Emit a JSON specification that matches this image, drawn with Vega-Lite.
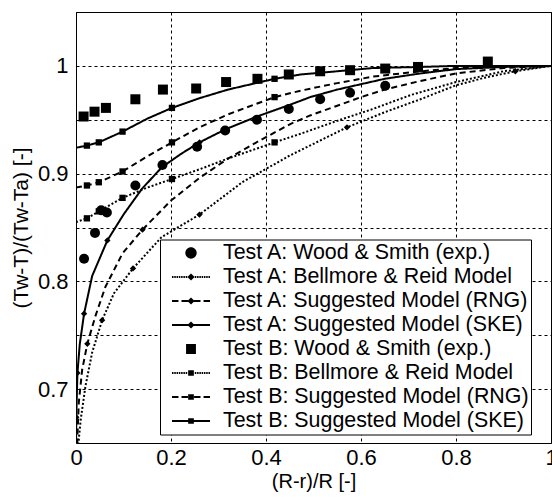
{
  "$schema": "https://vega.github.io/schema/vega-lite/v6.json",
  "width": 475,
  "height": 431,
  "autosize": "none",
  "padding": {"left": 76, "top": 12, "right": 1, "bottom": 54},
  "background": "white",
  "config": {
    "view": {"stroke": "black", "strokeWidth": 1},
    "axis": {
      "labelFont": "Liberation Sans", "labelFontSize": 22, "labelColor": "black",
      "titleFont": "Liberation Sans", "titleFontSize": 20, "titleFontWeight": "normal", "titleColor": "black",
      "grid": true, "gridColor": "black", "gridDash": [3, 3], "gridOpacity": 1, "gridWidth": 1,
      "domain": false, "ticks": false, "labelOverlap": false, "labelFlush": false
    }
  },
  "data": {"values": [
    {"s": "Test A: Bellmore & Reid Model", "k": "l", "x": 0.003, "y": 0.63},
    {"s": "Test A: Bellmore & Reid Model", "k": "l", "x": 0.006, "y": 0.654},
    {"s": "Test A: Bellmore & Reid Model", "k": "l", "x": 0.01, "y": 0.672},
    {"s": "Test A: Bellmore & Reid Model", "k": "l", "x": 0.02, "y": 0.703},
    {"s": "Test A: Bellmore & Reid Model", "k": "l", "x": 0.034, "y": 0.734},
    {"s": "Test A: Bellmore & Reid Model", "k": "m", "x": 0.055, "y": 0.764},
    {"s": "Test A: Bellmore & Reid Model", "k": "l", "x": 0.08, "y": 0.789},
    {"s": "Test A: Bellmore & Reid Model", "k": "m", "x": 0.12, "y": 0.812},
    {"s": "Test A: Bellmore & Reid Model", "k": "l", "x": 0.18, "y": 0.841},
    {"s": "Test A: Bellmore & Reid Model", "k": "m", "x": 0.26, "y": 0.862},
    {"s": "Test A: Bellmore & Reid Model", "k": "l", "x": 0.35, "y": 0.892},
    {"s": "Test A: Bellmore & Reid Model", "k": "l", "x": 0.451, "y": 0.917},
    {"s": "Test A: Bellmore & Reid Model", "k": "m", "x": 0.5705, "y": 0.943},
    {"s": "Test A: Bellmore & Reid Model", "k": "l", "x": 0.65, "y": 0.957},
    {"s": "Test A: Bellmore & Reid Model", "k": "l", "x": 0.725, "y": 0.969},
    {"s": "Test A: Bellmore & Reid Model", "k": "l", "x": 0.8, "y": 0.982},
    {"s": "Test A: Bellmore & Reid Model", "k": "l", "x": 0.86, "y": 0.989},
    {"s": "Test A: Bellmore & Reid Model", "k": "m", "x": 0.925, "y": 0.995},
    {"s": "Test A: Bellmore & Reid Model", "k": "l", "x": 1.0, "y": 1.0},

    {"s": "Test A: Suggested Model (RNG)", "k": "l", "x": 0.002, "y": 0.63},
    {"s": "Test A: Suggested Model (RNG)", "k": "l", "x": 0.003, "y": 0.657},
    {"s": "Test A: Suggested Model (RNG)", "k": "l", "x": 0.006, "y": 0.688},
    {"s": "Test A: Suggested Model (RNG)", "k": "l", "x": 0.013, "y": 0.718},
    {"s": "Test A: Suggested Model (RNG)", "k": "m", "x": 0.0238, "y": 0.742},
    {"s": "Test A: Suggested Model (RNG)", "k": "l", "x": 0.041, "y": 0.768},
    {"s": "Test A: Suggested Model (RNG)", "k": "l", "x": 0.062, "y": 0.795},
    {"s": "Test A: Suggested Model (RNG)", "k": "l", "x": 0.098, "y": 0.826},
    {"s": "Test A: Suggested Model (RNG)", "k": "m", "x": 0.14, "y": 0.848},
    {"s": "Test A: Suggested Model (RNG)", "k": "l", "x": 0.2, "y": 0.875},
    {"s": "Test A: Suggested Model (RNG)", "k": "l", "x": 0.26, "y": 0.896},
    {"s": "Test A: Suggested Model (RNG)", "k": "l", "x": 0.32, "y": 0.914},
    {"s": "Test A: Suggested Model (RNG)", "k": "l", "x": 0.388, "y": 0.931},
    {"s": "Test A: Suggested Model (RNG)", "k": "l", "x": 0.451, "y": 0.946},
    {"s": "Test A: Suggested Model (RNG)", "k": "l", "x": 0.493, "y": 0.954},
    {"s": "Test A: Suggested Model (RNG)", "k": "l", "x": 0.55, "y": 0.963},
    {"s": "Test A: Suggested Model (RNG)", "k": "l", "x": 0.6, "y": 0.971},
    {"s": "Test A: Suggested Model (RNG)", "k": "l", "x": 0.65, "y": 0.978},
    {"s": "Test A: Suggested Model (RNG)", "k": "l", "x": 0.725, "y": 0.986},
    {"s": "Test A: Suggested Model (RNG)", "k": "l", "x": 0.8, "y": 0.993},
    {"s": "Test A: Suggested Model (RNG)", "k": "l", "x": 0.9, "y": 0.998},
    {"s": "Test A: Suggested Model (RNG)", "k": "l", "x": 1.0, "y": 1.0},

    {"s": "Test A: Suggested Model (SKE)", "k": "l", "x": 0.0, "y": 0.63},
    {"s": "Test A: Suggested Model (SKE)", "k": "m", "x": 0.0006, "y": 0.674},
    {"s": "Test A: Suggested Model (SKE)", "k": "m", "x": 0.003, "y": 0.715},
    {"s": "Test A: Suggested Model (SKE)", "k": "l", "x": 0.008, "y": 0.742},
    {"s": "Test A: Suggested Model (SKE)", "k": "m", "x": 0.017, "y": 0.77},
    {"s": "Test A: Suggested Model (SKE)", "k": "l", "x": 0.034, "y": 0.805},
    {"s": "Test A: Suggested Model (SKE)", "k": "m", "x": 0.066, "y": 0.838},
    {"s": "Test A: Suggested Model (SKE)", "k": "l", "x": 0.1, "y": 0.862},
    {"s": "Test A: Suggested Model (SKE)", "k": "l", "x": 0.139, "y": 0.886},
    {"s": "Test A: Suggested Model (SKE)", "k": "l", "x": 0.181, "y": 0.906},
    {"s": "Test A: Suggested Model (SKE)", "k": "l", "x": 0.22, "y": 0.918},
    {"s": "Test A: Suggested Model (SKE)", "k": "m", "x": 0.26, "y": 0.929},
    {"s": "Test A: Suggested Model (SKE)", "k": "l", "x": 0.314, "y": 0.941},
    {"s": "Test A: Suggested Model (SKE)", "k": "l", "x": 0.381, "y": 0.953},
    {"s": "Test A: Suggested Model (SKE)", "k": "l", "x": 0.451, "y": 0.964},
    {"s": "Test A: Suggested Model (SKE)", "k": "l", "x": 0.493, "y": 0.971},
    {"s": "Test A: Suggested Model (SKE)", "k": "l", "x": 0.55, "y": 0.978},
    {"s": "Test A: Suggested Model (SKE)", "k": "l", "x": 0.6, "y": 0.983},
    {"s": "Test A: Suggested Model (SKE)", "k": "l", "x": 0.65, "y": 0.988},
    {"s": "Test A: Suggested Model (SKE)", "k": "l", "x": 0.725, "y": 0.993},
    {"s": "Test A: Suggested Model (SKE)", "k": "l", "x": 0.8, "y": 0.997},
    {"s": "Test A: Suggested Model (SKE)", "k": "l", "x": 0.9, "y": 0.999},
    {"s": "Test A: Suggested Model (SKE)", "k": "l", "x": 1.0, "y": 1.0},

    {"s": "Test B: Bellmore & Reid Model", "k": "l", "x": 0.0, "y": 0.855},
    {"s": "Test B: Bellmore & Reid Model", "k": "m", "x": 0.023, "y": 0.8585},
    {"s": "Test B: Bellmore & Reid Model", "k": "m", "x": 0.048, "y": 0.865},
    {"s": "Test B: Bellmore & Reid Model", "k": "m", "x": 0.098, "y": 0.8775},
    {"s": "Test B: Bellmore & Reid Model", "k": "l", "x": 0.15, "y": 0.887},
    {"s": "Test B: Bellmore & Reid Model", "k": "m", "x": 0.202, "y": 0.895},
    {"s": "Test B: Bellmore & Reid Model", "k": "l", "x": 0.26, "y": 0.904},
    {"s": "Test B: Bellmore & Reid Model", "k": "l", "x": 0.32, "y": 0.914},
    {"s": "Test B: Bellmore & Reid Model", "k": "m", "x": 0.418, "y": 0.929},
    {"s": "Test B: Bellmore & Reid Model", "k": "l", "x": 0.473, "y": 0.937},
    {"s": "Test B: Bellmore & Reid Model", "k": "l", "x": 0.55, "y": 0.949},
    {"s": "Test B: Bellmore & Reid Model", "k": "l", "x": 0.625, "y": 0.96},
    {"s": "Test B: Bellmore & Reid Model", "k": "l", "x": 0.705, "y": 0.973},
    {"s": "Test B: Bellmore & Reid Model", "k": "l", "x": 0.8, "y": 0.985},
    {"s": "Test B: Bellmore & Reid Model", "k": "l", "x": 0.9, "y": 0.995},
    {"s": "Test B: Bellmore & Reid Model", "k": "l", "x": 1.0, "y": 1.0},

    {"s": "Test B: Suggested Model (RNG)", "k": "l", "x": 0.0, "y": 0.887},
    {"s": "Test B: Suggested Model (RNG)", "k": "m", "x": 0.023, "y": 0.889},
    {"s": "Test B: Suggested Model (RNG)", "k": "m", "x": 0.048, "y": 0.892},
    {"s": "Test B: Suggested Model (RNG)", "k": "m", "x": 0.098, "y": 0.902},
    {"s": "Test B: Suggested Model (RNG)", "k": "l", "x": 0.15, "y": 0.916},
    {"s": "Test B: Suggested Model (RNG)", "k": "m", "x": 0.202, "y": 0.929},
    {"s": "Test B: Suggested Model (RNG)", "k": "l", "x": 0.26, "y": 0.943},
    {"s": "Test B: Suggested Model (RNG)", "k": "l", "x": 0.32, "y": 0.955},
    {"s": "Test B: Suggested Model (RNG)", "k": "m", "x": 0.418, "y": 0.971},
    {"s": "Test B: Suggested Model (RNG)", "k": "l", "x": 0.473, "y": 0.977},
    {"s": "Test B: Suggested Model (RNG)", "k": "l", "x": 0.55, "y": 0.984},
    {"s": "Test B: Suggested Model (RNG)", "k": "l", "x": 0.625, "y": 0.99},
    {"s": "Test B: Suggested Model (RNG)", "k": "l", "x": 0.705, "y": 0.994},
    {"s": "Test B: Suggested Model (RNG)", "k": "l", "x": 0.8, "y": 0.998},
    {"s": "Test B: Suggested Model (RNG)", "k": "l", "x": 0.9, "y": 1.0},
    {"s": "Test B: Suggested Model (RNG)", "k": "l", "x": 1.0, "y": 1.0},

    {"s": "Test B: Suggested Model (SKE)", "k": "l", "x": 0.0, "y": 0.924},
    {"s": "Test B: Suggested Model (SKE)", "k": "m", "x": 0.023, "y": 0.926},
    {"s": "Test B: Suggested Model (SKE)", "k": "m", "x": 0.048, "y": 0.929},
    {"s": "Test B: Suggested Model (SKE)", "k": "m", "x": 0.098, "y": 0.939},
    {"s": "Test B: Suggested Model (SKE)", "k": "l", "x": 0.15, "y": 0.951},
    {"s": "Test B: Suggested Model (SKE)", "k": "m", "x": 0.202, "y": 0.961},
    {"s": "Test B: Suggested Model (SKE)", "k": "l", "x": 0.26, "y": 0.97},
    {"s": "Test B: Suggested Model (SKE)", "k": "l", "x": 0.32, "y": 0.978},
    {"s": "Test B: Suggested Model (SKE)", "k": "m", "x": 0.418, "y": 0.988},
    {"s": "Test B: Suggested Model (SKE)", "k": "l", "x": 0.473, "y": 0.992},
    {"s": "Test B: Suggested Model (SKE)", "k": "l", "x": 0.55, "y": 0.995},
    {"s": "Test B: Suggested Model (SKE)", "k": "l", "x": 0.625, "y": 0.998},
    {"s": "Test B: Suggested Model (SKE)", "k": "l", "x": 0.725, "y": 0.999},
    {"s": "Test B: Suggested Model (SKE)", "k": "l", "x": 0.8, "y": 1.0},
    {"s": "Test B: Suggested Model (SKE)", "k": "l", "x": 1.0, "y": 1.0},

    {"s": "Test A: Wood & Smith (exp.)", "k": "e", "x": 0.017, "y": 0.821},
    {"s": "Test A: Wood & Smith (exp.)", "k": "e", "x": 0.04, "y": 0.845},
    {"s": "Test A: Wood & Smith (exp.)", "k": "e", "x": 0.053, "y": 0.866},
    {"s": "Test A: Wood & Smith (exp.)", "k": "e", "x": 0.065, "y": 0.864},
    {"s": "Test A: Wood & Smith (exp.)", "k": "e", "x": 0.125, "y": 0.889},
    {"s": "Test A: Wood & Smith (exp.)", "k": "e", "x": 0.182, "y": 0.908},
    {"s": "Test A: Wood & Smith (exp.)", "k": "e", "x": 0.255, "y": 0.925},
    {"s": "Test A: Wood & Smith (exp.)", "k": "e", "x": 0.314, "y": 0.94},
    {"s": "Test A: Wood & Smith (exp.)", "k": "e", "x": 0.381, "y": 0.95},
    {"s": "Test A: Wood & Smith (exp.)", "k": "e", "x": 0.448, "y": 0.96},
    {"s": "Test A: Wood & Smith (exp.)", "k": "e", "x": 0.514, "y": 0.969},
    {"s": "Test A: Wood & Smith (exp.)", "k": "e", "x": 0.577, "y": 0.975},
    {"s": "Test A: Wood & Smith (exp.)", "k": "e", "x": 0.651, "y": 0.9815},

    {"s": "Test B: Wood & Smith (exp.)", "k": "e", "x": 0.016, "y": 0.953},
    {"s": "Test B: Wood & Smith (exp.)", "k": "e", "x": 0.039, "y": 0.9575},
    {"s": "Test B: Wood & Smith (exp.)", "k": "e", "x": 0.063, "y": 0.961},
    {"s": "Test B: Wood & Smith (exp.)", "k": "e", "x": 0.125, "y": 0.969},
    {"s": "Test B: Wood & Smith (exp.)", "k": "e", "x": 0.183, "y": 0.978},
    {"s": "Test B: Wood & Smith (exp.)", "k": "e", "x": 0.253, "y": 0.979},
    {"s": "Test B: Wood & Smith (exp.)", "k": "e", "x": 0.316, "y": 0.985},
    {"s": "Test B: Wood & Smith (exp.)", "k": "e", "x": 0.382, "y": 0.988},
    {"s": "Test B: Wood & Smith (exp.)", "k": "e", "x": 0.448, "y": 0.992},
    {"s": "Test B: Wood & Smith (exp.)", "k": "e", "x": 0.514, "y": 0.995},
    {"s": "Test B: Wood & Smith (exp.)", "k": "e", "x": 0.577, "y": 0.996},
    {"s": "Test B: Wood & Smith (exp.)", "k": "e", "x": 0.651, "y": 0.9975},
    {"s": "Test B: Wood & Smith (exp.)", "k": "e", "x": 0.72, "y": 0.999},
    {"s": "Test B: Wood & Smith (exp.)", "k": "e", "x": 0.867, "y": 1.004}
  ]},
  "encoding": {
    "x": {"field": "x", "type": "quantitative",
      "scale": {"domain": [0, 1], "nice": false, "zero": false},
      "axis": {"title": "(R-r)/R [-]", "values": [0, 0.2, 0.4, 0.6, 0.8, 1], "format": "~g", "labelPadding": 4, "titlePadding": 3}},
    "y": {"field": "y", "type": "quantitative",
      "scale": {"domain": [0.65, 1.05], "nice": false, "zero": false},
      "axis": {"title": "(Tw-T)/(Tw-Ta) [-]", "titleFontSize": 21, "values": [0.65, 0.7, 0.75, 0.8, 0.85, 0.9, 0.95, 1, 1.05],
        "labelExpr": "abs(datum.value*10 - round(datum.value*10)) < 0.01 && datum.value < 1.04 ? format(datum.value, '~g') : ''",
        "labelPadding": 8, "titlePadding": 6}}
  },
  "resolve": {"scale": {"shape": "independent"}, "legend": {"shape": "independent"}},
  "layer": [
    {
      "transform": [{"filter": "datum.k != 'e'"}],
      "mark": {"type": "line", "color": "black", "strokeWidth": 2, "clip": true},
      "encoding": {
        "strokeDash": {"field": "s", "type": "nominal",
          "scale": {"domain": ["Test A: Bellmore & Reid Model", "Test A: Suggested Model (RNG)", "Test A: Suggested Model (SKE)", "Test B: Bellmore & Reid Model", "Test B: Suggested Model (RNG)", "Test B: Suggested Model (SKE)"],
            "range": [[2, 2], [6, 4], [1, 0], [2, 2], [6, 4], [1, 0]]},
          "legend": null},
        "order": {"field": "x", "type": "quantitative"}
      }
    },
    {
      "transform": [{"filter": "datum.k == 'm'"}],
      "mark": {"type": "point", "filled": true, "size": 40, "opacity": 1, "color": "black", "clip": true},
      "encoding": {
        "shape": {"field": "s", "type": "nominal",
          "scale": {"domain": ["Test A: Wood & Smith (exp.)", "Test A: Bellmore & Reid Model", "Test A: Suggested Model (RNG)", "Test A: Suggested Model (SKE)", "Test B: Wood & Smith (exp.)", "Test B: Bellmore & Reid Model", "Test B: Suggested Model (RNG)", "Test B: Suggested Model (SKE)"],
            "range": ["circle", "diamond", "diamond", "diamond", "square", "square", "square", "square"]},
          "legend": null}
      }
    },
    {
      "transform": [{"filter": "datum.k == 'e'"}],
      "mark": {"type": "point", "filled": true, "size": 100, "opacity": 1, "color": "black", "clip": true},
      "encoding": {
        "shape": {"field": "s", "type": "nominal",
          "scale": {"domain": ["Test A: Wood & Smith (exp.)", "Test A: Bellmore & Reid Model", "Test A: Suggested Model (RNG)", "Test A: Suggested Model (SKE)", "Test B: Wood & Smith (exp.)", "Test B: Bellmore & Reid Model", "Test B: Suggested Model (RNG)", "Test B: Suggested Model (SKE)"],
            "range": ["circle", "diamond", "diamond", "diamond", "square", "square", "square", "square"]},
          "legend": null}
      }
    },
    {
      "transform": [{"filter": "datum.k == 'e'"}],
      "mark": {"type": "point", "filled": true, "opacity": 0, "color": "black", "clip": true},
      "encoding": {
        "shape": {"field": "s", "type": "nominal",
          "scale": {"domain": ["Test A: Wood & Smith (exp.)", "Test A: Bellmore & Reid Model", "Test A: Suggested Model (RNG)", "Test A: Suggested Model (SKE)", "Test B: Wood & Smith (exp.)", "Test B: Bellmore & Reid Model", "Test B: Suggested Model (RNG)", "Test B: Suggested Model (SKE)"],
            "range": [
              "M0.3,0A0.3,0.3,0,1,1,-0.3,0A0.3,0.3,0,1,1,0.3,0Z",
              "M-1,-0.05h0.08v0.1h-0.08ZM-0.88,-0.05h0.08v0.1h-0.08ZM-0.76,-0.05h0.08v0.1h-0.08ZM-0.64,-0.05h0.08v0.1h-0.08ZM-0.52,-0.05h0.08v0.1h-0.08ZM-0.4,-0.05h0.08v0.1h-0.08ZM-0.28,-0.05h0.08v0.1h-0.08ZM0.2,-0.05h0.08v0.1h-0.08ZM0.32,-0.05h0.08v0.1h-0.08ZM0.44,-0.05h0.08v0.1h-0.08ZM0.56,-0.05h0.08v0.1h-0.08ZM0.68,-0.05h0.08v0.1h-0.08ZM0.8,-0.05h0.08v0.1h-0.08ZM0.92,-0.05h0.08v0.1h-0.08ZM0,-0.19L0.19,0L0,0.19L-0.19,0Z",
              "M-1,-0.05H-0.66V0.05H-1ZM-0.5,-0.05H-0.16V0.05H-0.5ZM0.16,-0.05H0.5V0.05H0.16ZM0.66,-0.05H1V0.05H0.66ZM0,-0.19L0.19,0L0,0.19L-0.19,0Z",
              "M-1,-0.05H1V0.05H-1ZM0,-0.19L0.19,0L0,0.19L-0.19,0Z",
              "M-0.26,-0.26H0.26V0.26H-0.26Z",
              "M-1,-0.05h0.08v0.1h-0.08ZM-0.88,-0.05h0.08v0.1h-0.08ZM-0.76,-0.05h0.08v0.1h-0.08ZM-0.64,-0.05h0.08v0.1h-0.08ZM-0.52,-0.05h0.08v0.1h-0.08ZM-0.4,-0.05h0.08v0.1h-0.08ZM-0.28,-0.05h0.08v0.1h-0.08ZM0.2,-0.05h0.08v0.1h-0.08ZM0.32,-0.05h0.08v0.1h-0.08ZM0.44,-0.05h0.08v0.1h-0.08ZM0.56,-0.05h0.08v0.1h-0.08ZM0.68,-0.05h0.08v0.1h-0.08ZM0.8,-0.05h0.08v0.1h-0.08ZM0.92,-0.05h0.08v0.1h-0.08ZM-0.15,-0.15H0.15V0.15H-0.15Z",
              "M-1,-0.05H-0.66V0.05H-1ZM-0.5,-0.05H-0.16V0.05H-0.5ZM0.16,-0.05H0.5V0.05H0.16ZM0.66,-0.05H1V0.05H0.66ZM-0.15,-0.15H0.15V0.15H-0.15Z",
              "M-1,-0.05H1V0.05H-1ZM-0.15,-0.15H0.15V0.15H-0.15Z"
            ]},
          "legend": {
            "orient": "none", "legendX": 84, "legendY": 227.5, "title": null,
            "symbolSize": 1444, "symbolStrokeWidth": 0, "symbolOpacity": 1,
            "labelFont": "Liberation Sans", "labelFontSize": 21.4, "labelColor": "black", "labelLimit": 500,
            "labelOffset": 13, "symbolOffset": 10, "padding": 2, "rowPadding": 1, "clipHeight": 23,
            "strokeColor": "black", "fillColor": "white", "zindex": 1,
            "labelExpr": "datum.label + '\u00a0\u00a0\u00a0\u00a0'",
            "encode": {"symbols": {
              "fill": {"value": "black"},
              "opacity": {"value": 1}
            }}
          }}
      }
    }
  ]
}
